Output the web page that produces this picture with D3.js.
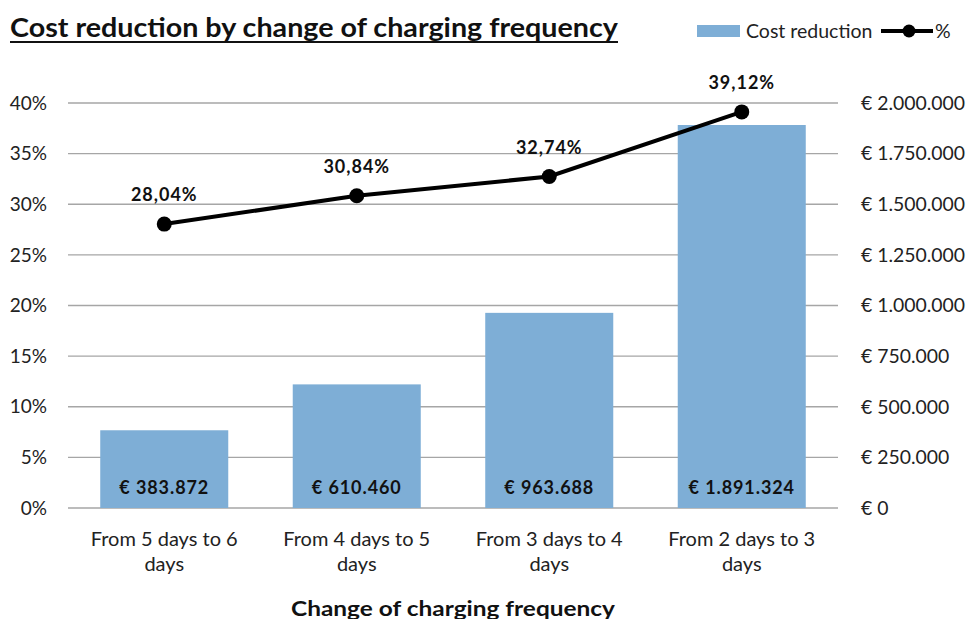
<!DOCTYPE html>
<html><head><meta charset="utf-8">
<script src="https://cdn.jsdelivr.net/npm/d3@7"></script>
<style>body{margin:0;background:#fff;} svg{display:block;font-family:Lato,"Open Sans",sans-serif;}</style>
</head><body>
<svg id="c" width="968" height="619"></svg>
<script>
const categories = [["From 5 days to 6","days"],["From 4 days to 5","days"],["From 3 days to 4","days"],["From 2 days to 3","days"]];
const costValues = [383872, 610460, 963688, 1891324];
const costLabels = ["€ 383.872","€ 610.460","€ 963.688","€ 1.891.324"];
const pctValues = [28.04, 30.84, 32.74, 39.12];
const pctLabels = ["28,04%","30,84%","32,74%","39,12%"];
const leftTicks = [0,5,10,15,20,25,30,35,40];
const rightTicks = [0,250000,500000,750000,1000000,1250000,1500000,1750000,2000000];
const rightTickLabels = ["€ 0","€ 250.000","€ 500.000","€ 750.000","€ 1.000.000","€ 1.250.000","€ 1.500.000","€ 1.750.000","€ 2.000.000"];

const svg = d3.select("#c");
const L = 68, R = 838, T = 103, B = 508;
const x = d3.scaleBand().domain(d3.range(categories.length)).range([L,R]).paddingInner(0.335).paddingOuter(0.1675);
const yL = d3.scaleLinear().domain([0,40]).range([B,T]);
const yR = d3.scaleLinear().domain([0,2000000]).range([B,T]);

// gridlines
svg.append("g").selectAll("line").data(leftTicks).join("line")
  .attr("x1",L).attr("x2",R).attr("y1",d=>yL(d)).attr("y2",d=>yL(d))
  .attr("stroke","#a6a6a6").attr("stroke-width",1.3);

// left axis labels
svg.append("g").selectAll("text").data(leftTicks).join("text")
  .attr("x",47).attr("y",d=>yL(d)).attr("dy","0.35em").attr("text-anchor","end")
  .attr("font-size",19).attr("fill","#222").text(d=>d+"%");

// right axis labels
svg.append("g").selectAll("text").data(rightTicks).join("text")
  .attr("x",861).attr("y",d=>yR(d)).attr("dy","0.35em").attr("text-anchor","start")
  .attr("font-size",19.4).attr("fill","#222").text((d,i)=>rightTickLabels[i]);

// bars
svg.append("g").selectAll("rect").data(costValues).join("rect")
  .attr("x",(d,i)=>x(i)).attr("width",x.bandwidth())
  .attr("y",d=>yR(d)).attr("height",d=>B-yR(d)).attr("fill","#7eaed6");

// bar labels
svg.append("g").selectAll("text").data(costLabels).join("text")
  .attr("x",(d,i)=>x(i)+x.bandwidth()/2).attr("y",B-14)
  .attr("text-anchor","middle").attr("font-size",18).attr("font-weight","bold").attr("fill","#111")
  .attr("letter-spacing",0.9)
  .text(d=>d);

// line
const cx = i => x(i)+x.bandwidth()/2;
svg.append("path").datum(pctValues)
  .attr("d", d3.line().x((d,i)=>cx(i)).y(d=>yL(d)))
  .attr("fill","none").attr("stroke","#000").attr("stroke-width",4);
svg.append("g").selectAll("circle").data(pctValues).join("circle")
  .attr("cx",(d,i)=>cx(i)).attr("cy",d=>yL(d)).attr("r",7.5).attr("fill","#000");
svg.append("g").selectAll("text").data(pctValues).join("text")
  .attr("x",(d,i)=>cx(i)).attr("y",d=>yL(d)-23)
  .attr("text-anchor","middle").attr("font-size",18).attr("font-weight","bold").attr("fill","#111")
  .attr("letter-spacing",1)
  .text((d,i)=>pctLabels[i]);

// category labels
const cg = svg.append("g").selectAll("text").data(categories).join("text")
  .attr("x",(d,i)=>cx(i)).attr("y",546).attr("text-anchor","middle").attr("font-size",20).attr("fill","#222");
cg.each(function(d,i){
  const t=d3.select(this);
  d.forEach((line,j)=>t.append("tspan").attr("x",cx(i)).attr("dy",j===0?0:25).text(line));
});

// axis title
svg.append("text").attr("x",291).attr("y",616).attr("text-anchor","start")
  .attr("font-size",21).attr("font-weight","bold").attr("fill","#111")
  .attr("textLength",324).attr("lengthAdjust","spacingAndGlyphs")
  .text("Change of charging frequency");

// title
svg.append("text").attr("x",10).attr("y",37).attr("font-size",26).attr("font-weight","bold").attr("fill","#111")
  .attr("textLength",608).attr("lengthAdjust","spacingAndGlyphs")
  .text("Cost reduction by change of charging frequency");
svg.append("line").attr("x1",10).attr("x2",618).attr("y1",42).attr("y2",42).attr("stroke","#111").attr("stroke-width",2.2);

// legend
svg.append("rect").attr("x",697).attr("y",25).attr("width",43).attr("height",12).attr("fill","#7eaed6");
svg.append("text").attr("x",746).attr("y",38).attr("font-size",19.5).attr("fill","#222").text("Cost reduction");
svg.append("line").attr("x1",881).attr("x2",933).attr("y1",31).attr("y2",31).attr("stroke","#000").attr("stroke-width",4);
svg.append("circle").attr("cx",909).attr("cy",31).attr("r",6.5).attr("fill","#000");
svg.append("text").attr("x",935).attr("y",38).attr("font-size",19.5).attr("fill","#222").text("%");
</script>
</body></html>
